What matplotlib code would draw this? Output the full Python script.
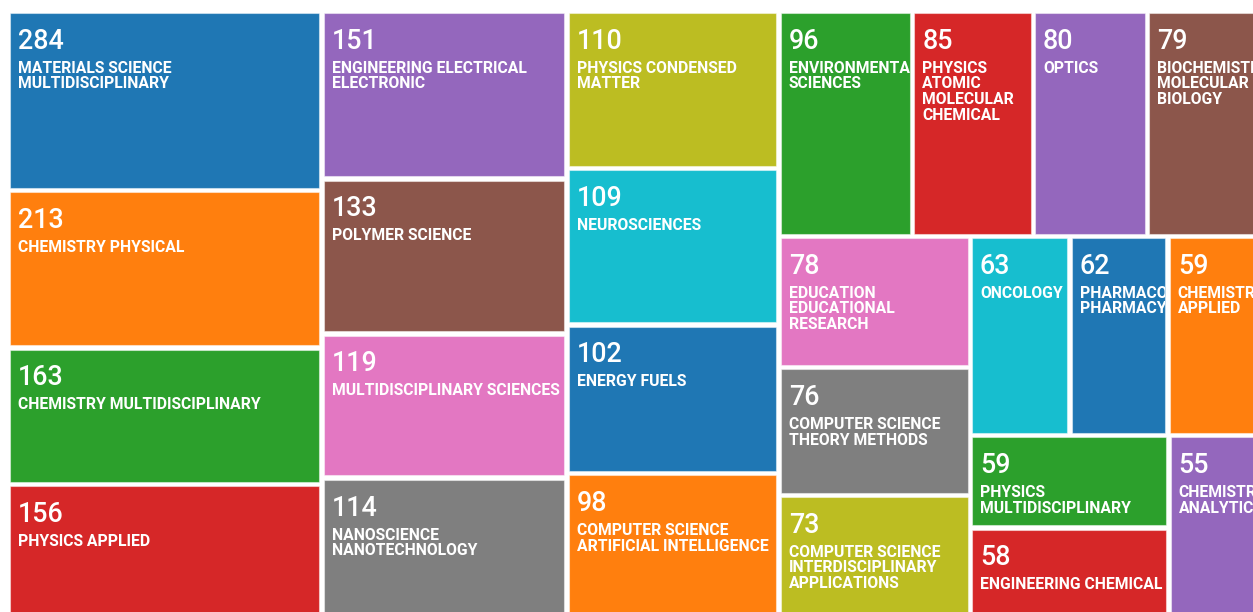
# coding: utf-8
# category_treemap.py

import numpy as np
import matplotlib
matplotlib.use('Agg')
import matplotlib.pyplot as plt
from matplotlib.patches import Rectangle
from matplotlib.transforms import Bbox

# 记录数 (record count) per Web of Science category, in display order
counts = [284, 213, 163, 156, 151, 133, 119, 114, 110, 109, 102, 98, 96,
          85, 80, 79, 78, 76, 73, 63, 62, 59, 59, 58, 55]

categories = [
    "MATERIALS SCIENCE\nMULTIDISCIPLINARY",
    "CHEMISTRY PHYSICAL",
    "CHEMISTRY MULTIDISCIPLINARY",
    "PHYSICS APPLIED",
    "ENGINEERING ELECTRICAL\nELECTRONIC",
    "POLYMER SCIENCE",
    "MULTIDISCIPLINARY SCIENCES",
    "NANOSCIENCE\nNANOTECHNOLOGY",
    "PHYSICS CONDENSED\nMATTER",
    "NEUROSCIENCES",
    "ENERGY FUELS",
    "COMPUTER SCIENCE\nARTIFICIAL INTELLIGENCE",
    "ENVIRONMENTAL\nSCIENCES",
    "PHYSICS\nATOMIC\nMOLECULAR\nCHEMICAL",
    "OPTICS",
    "BIOCHEMISTRY\nMOLECULAR\nBIOLOGY",
    "EDUCATION\nEDUCATIONAL\nRESEARCH",
    "COMPUTER SCIENCE\nTHEORY METHODS",
    "COMPUTER SCIENCE\nINTERDISCIPLINARY\nAPPLICATIONS",
    "ONCOLOGY",
    "PHARMACOLOGY\nPHARMACY",
    "CHEMISTRY\nAPPLIED",
    "PHYSICS\nMULTIDISCIPLINARY",
    "ENGINEERING CHEMICAL",
    "CHEMISTRY\nANALYTICAL",
]

palette = ['#1f77b4', '#ff7f0e', '#2ca02c', '#d62728', '#9467bd',
           '#8c564b', '#e377c2', '#7f7f7f', '#bcbd22', '#17becf']

PHI = (1 + 5 ** 0.5) / 2


def squarify(values, x0, y0, x1, y1, ratio=PHI):
    # port of d3 treemapSquarify (golden ratio), y grows downward
    rects = [None] * len(values)
    value = float(sum(values))
    n = len(values)
    i0 = i1 = 0
    while i0 < n:
        dx, dy = x1 - x0, y1 - y0
        sum_v = values[i1]
        i1 += 1
        min_v = max_v = sum_v
        alpha = max(dy / dx, dx / dy) / (value * ratio)
        beta = sum_v * sum_v * alpha
        min_ratio = max(max_v / beta, beta / min_v)
        while i1 < n:
            v = values[i1]
            s = sum_v + v
            mn, mx = min(min_v, v), max(max_v, v)
            beta = s * s * alpha
            new_ratio = max(mx / beta, beta / mn)
            if new_ratio > min_ratio:
                break
            sum_v, min_v, max_v, min_ratio = s, mn, mx, new_ratio
            i1 += 1
        row = values[i0:i1]
        if dx < dy:
            # 横向一行放在顶部
            y_end = y0 + dy * sum_v / value
            x = x0
            for k, v in enumerate(row):
                w = dx * v / sum_v
                rects[i0 + k] = (x, y0, x + w, y_end)
                x += w
            y0 = y_end
        else:
            # 纵向一列放在左侧
            x_end = x0 + dx * sum_v / value
            y = y0
            for k, v in enumerate(row):
                h = dy * v / sum_v
                rects[i0 + k] = (x0, y, x_end, y + h)
                y += h
            x0 = x_end
        value -= sum_v
        i0 = i1
    return rects


def plot_treemap(output_path='out.png'):
    W, H = 1253, 612
    fig = plt.figure(figsize=(W / 100, H / 100), dpi=100)
    ax = fig.add_axes([0, 0, 1, 1])
    ax.set_xlim(0, W)
    ax.set_ylim(H, 0)
    ax.axis('off')

    # tile area follows log of the count (offset so the smallest tile stays visible)
    weights = list(np.log(np.array(counts, dtype=float)) - 3.32)

    # the layout canvas runs a little past the right / bottom edge of the picture
    pad = 2.2
    rects = squarify(weights, 7.8, 10.8, 1259.5, 617.5)

    for i, (x0, y0, x1, y1) in enumerate(rects):
        tx0, ty0, tx1, ty1 = x0 + pad, y0 + pad, x1 - pad, y1 - pad
        color = palette[i % len(palette)]
        ax.add_patch(Rectangle((tx0, ty0), tx1 - tx0, ty1 - ty0,
                               facecolor=color, edgecolor=(1, 1, 1, 0.45),
                               linewidth=0.8))

        # clip text to the tile (display coords)
        corners = ax.transData.transform([(tx0, ty0), (tx1, ty1)])
        clip = Bbox.from_extents(corners[:, 0].min(), corners[:, 1].min(),
                                 corners[:, 0].max(), corners[:, 1].max())

        texts = []
        texts.append(ax.text(tx0 + 8, ty0 + 35.7, str(counts[i]), color='white',
                             fontsize=19.4, fontweight='medium',
                             family=['Roboto', 'DejaVu Sans'],
                             ha='left', va='baseline'))
        for k, line in enumerate(categories[i].split('\n')):
            texts.append(ax.text(tx0 + 8, ty0 + 59.7 + k * 15.6, line, color='white',
                                 fontsize=11.3, fontweight='bold',
                                 family=['Roboto', 'DejaVu Sans'],
                                 ha='left', va='baseline'))
        # ax.text resets the clip box to the axes, so set it afterwards
        for t in texts:
            t.set_clip_on(True)
            t.set_clip_box(clip)

    plt.savefig(output_path, dpi=100)
    plt.close()
    return output_path


if __name__ == "__main__":
    plot_treemap('out.png')
